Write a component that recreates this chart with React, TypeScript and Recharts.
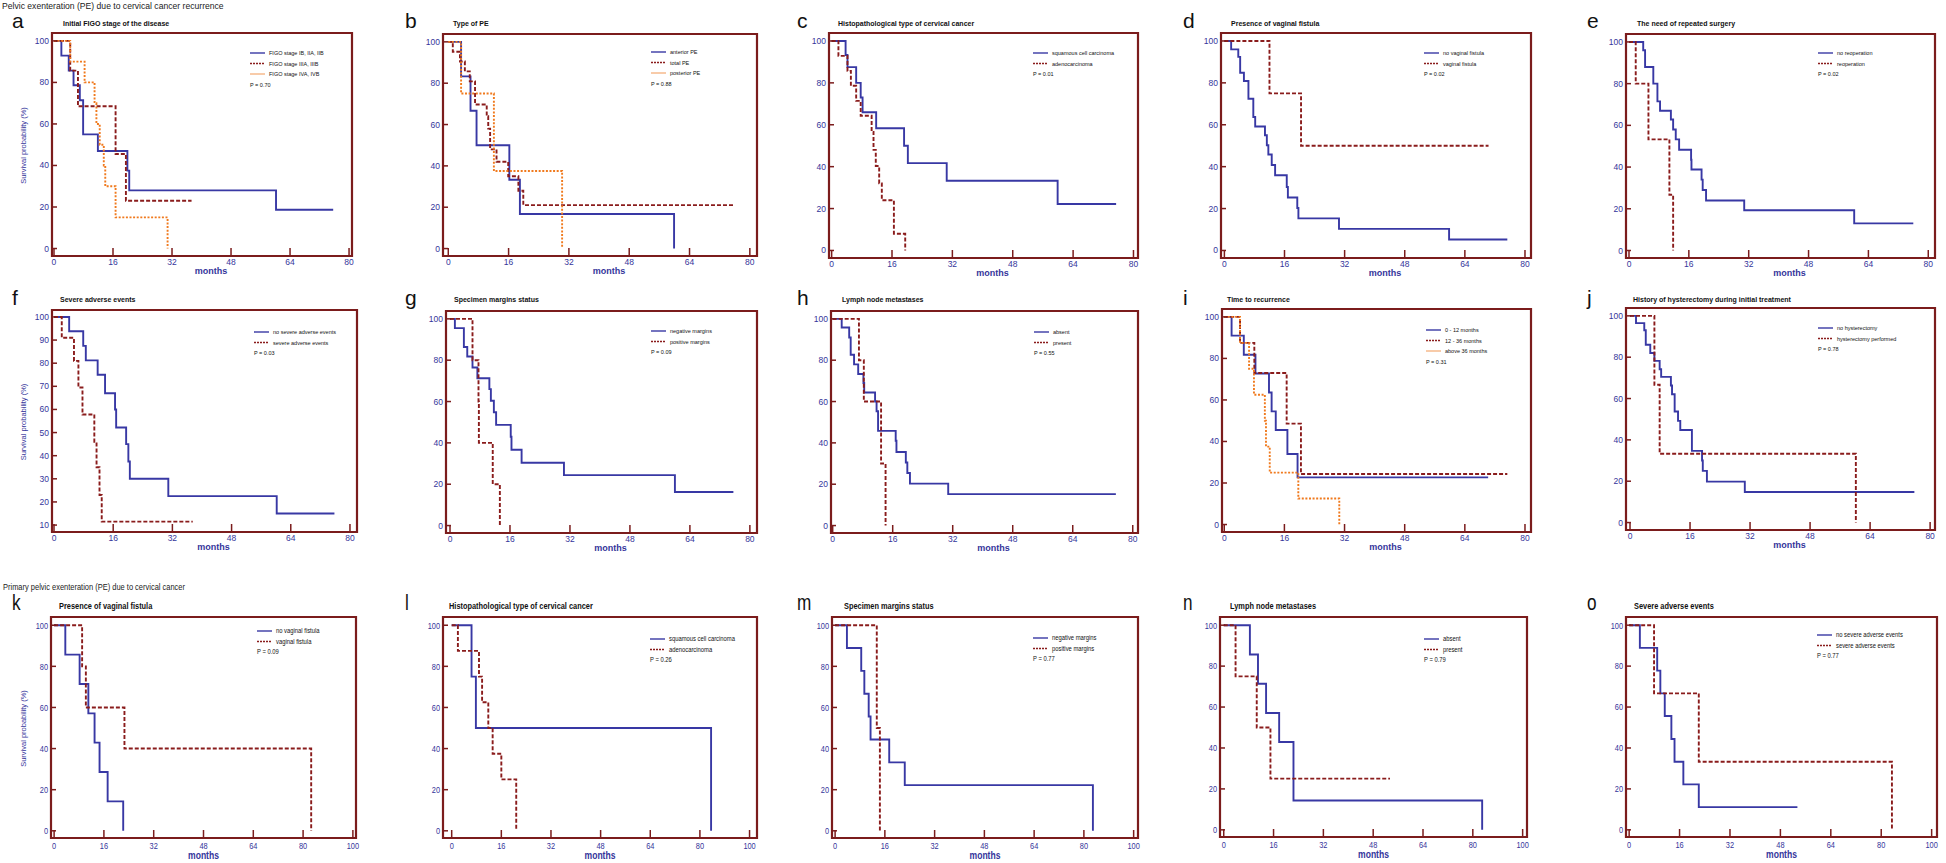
import { LineChart, Line, XAxis, YAxis, ReferenceArea } from 'recharts'

type Pt = [number, number] // [months, survival %]
type Kind = 'blue' | 'red' | 'orange'

// ---- recurrence group (a - j) ----
const figoEarly: Pt[] = [[0, 100], [2, 92.9], [4, 85.7], [5.3, 78.6], [7, 71.4], [7.9, 55], [11.9, 47], [19.9, 37.5], [20.4, 28], [60.2, 18.7], [75.7, 18.7]]
const figoMid: Pt[] = [[0, 100], [4.4, 85.7], [6.5, 68.5], [16.7, 45.5], [19.5, 23], [37.3, 23]]
const figoLate: Pt[] = [[0, 100], [4.4, 90], [8.3, 80], [11, 70], [11.5, 60], [12.4, 50], [13.5, 40], [13.9, 30], [16.7, 15], [30.8, 0]]

const peAnterior: Pt[] = [[0, 100], [3.4, 83.3], [5.9, 66.7], [7.5, 50], [16.2, 33.3], [19, 16.7], [59.9, 0]]
const peTotal: Pt[] = [[0, 100], [1.2, 95.2], [3.1, 90.5], [4.4, 85.7], [5.7, 80.9], [7.1, 69.7], [10.2, 64], [10.6, 58], [11.1, 48], [12.8, 42], [15.9, 35], [18.6, 28], [19.9, 21], [75.6, 21]]
const pePosterior: Pt[] = [[0, 100], [3.4, 75], [12.1, 37.5], [30.2, 0]]

const histSquamous: Pt[] = [[0, 100], [3.7, 93.3], [4.2, 87.5], [6.5, 80], [7.7, 73], [8.2, 66], [11.8, 58.3], [19.2, 50], [20.2, 41.7], [30.5, 33.3], [59.9, 22.2], [75.4, 22.2]]
const histAdeno: Pt[] = [[0, 100], [1.8, 92.9], [4.2, 85.7], [5.1, 78.6], [6.5, 71.4], [7.7, 64.3], [10.6, 56.6], [11.1, 48], [11.7, 40.3], [12.6, 32], [13.3, 24], [16.5, 8], [19.5, 0]]

const fistulaNo: Pt[] = [[0, 100], [1.8, 96], [3.7, 92.4], [4.2, 84.8], [5.2, 80.9], [6.4, 72.4], [7.7, 63.7], [8.2, 59.2], [10.8, 55], [11.3, 50.2], [11.7, 45.8], [12.6, 40.8], [13.5, 35.9], [16.6, 30.3], [16.9, 25.3], [19.4, 20.3], [19.7, 15.3], [30.5, 10.3], [59.8, 5.2], [75.3, 5.2]]
const fistulaYes: Pt[] = [[0, 100], [12, 75], [20.4, 50], [70.3, 50]]

const reopNo: Pt[] = [[0, 100], [3.8, 96], [4.3, 88], [6.5, 80], [7.6, 71.5], [8.3, 67], [11.2, 62.8], [11.8, 58], [12.5, 53.3], [13.4, 48.3], [16.6, 43.5], [16.7, 38.8], [19.4, 34], [19.7, 29], [20.6, 24], [30.8, 19.3], [60.2, 13], [76, 13]]
const reopYes: Pt[] = [[0, 100], [1.8, 80], [5.2, 53.3], [10.8, 26.7], [11.8, 0]]

const saeNo: Pt[] = [[0, 100], [4.1, 93.8], [7.9, 87.5], [8.6, 81.2], [11.8, 75], [13.8, 67], [16.5, 60], [16.8, 52.2], [19.5, 45], [20.1, 37.5], [20.5, 30], [30.9, 22.5], [60.2, 15], [75.8, 15]]
const saeYes: Pt[] = [[0, 100], [2.1, 91], [5.4, 81], [6.6, 69.5], [7.7, 57.8], [10.9, 46], [11.5, 35], [12.3, 23], [12.9, 11.5], [37.5, 11.5]]

const marginNeg: Pt[] = [[0, 100], [1.3, 95.5], [3.7, 86.4], [4.6, 81.8], [6, 76.5], [7.3, 71.3], [10.5, 66], [10.9, 60.4], [11.7, 54.8], [12.3, 48.7], [16.2, 43], [16.4, 36.7], [19.1, 30.4], [30.4, 24.4], [60, 16.2], [75.6, 16.2]]
const marginPos: Pt[] = [[0, 100], [6, 80], [7.6, 60], [7.7, 40], [11.4, 20], [13.3, 0]]

const nodesAbsent: Pt[] = [[0, 100], [2.4, 95.8], [4.4, 91], [4.8, 82.6], [5.7, 78], [6.8, 73.3], [8.2, 69], [8.4, 64.4], [11.3, 60], [11.7, 55.3], [12.1, 45.8], [16.8, 41], [17, 35.6], [19.5, 30.5], [19.9, 25.4], [20.6, 20.3], [30.8, 15.2], [75.5, 15.2]]
const nodesPresent: Pt[] = [[0, 100], [7, 80], [8.3, 60], [12.9, 30], [14.1, 0]]

const recur0to12: Pt[] = [[0, 100], [1.95, 91], [5.2, 81.8], [8.3, 72.7], [11.9, 63.6], [12.6, 54.5], [13.7, 45.5], [16.8, 34], [19.5, 22.7], [70.2, 22.7]]
const recur12to36: Pt[] = [[0, 100], [4.2, 87.5], [8, 73], [16.6, 48.6], [20.4, 24.3], [75.3, 24.3]]
const recurOver36: Pt[] = [[0, 100], [4.2, 87.5], [6.6, 75], [7.9, 62.5], [10.8, 50], [11.1, 37.5], [12.1, 25], [19.7, 12.5], [30.6, 0]]

const hystNo: Pt[] = [[0, 100], [1.6, 96.5], [3.8, 93], [4.2, 86], [5.4, 82], [6.5, 78.2], [7.9, 74.2], [8.3, 70.5], [10.9, 66.3], [11.2, 62.1], [11.9, 53.7], [12.8, 49.2], [13.4, 44.8], [16.5, 34.7], [19.2, 30], [19.4, 25], [20.5, 19.8], [30.6, 14.8], [75.8, 14.8]]
const hystYes: Pt[] = [[0, 100], [6.5, 66.7], [7.9, 33.3], [60.2, 0]]

// ---- primary group (k - o) ----
const pFistulaNo: Pt[] = [[0, 100], [3.6, 85.7], [8.2, 71.4], [11, 57.1], [13, 42.9], [14.6, 28.6], [17.2, 14.3], [22.2, 0]]
const pFistulaYes: Pt[] = [[0, 100], [9, 80], [10.2, 60], [22.6, 40], [82.6, 0]]

const pSquamous: Pt[] = [[0, 100], [6.4, 75], [7.8, 50], [83.6, 0]]
const pAdeno: Pt[] = [[0, 100], [2, 87.5], [8.8, 75], [9.8, 62.5], [11.8, 50], [13.2, 37.5], [16, 25], [20.8, 0]]

const pMarginNeg: Pt[] = [[0, 100], [3.8, 88.9], [8.4, 77.8], [9.4, 66.7], [10.8, 55.6], [11.4, 44.4], [17.4, 33.3], [22.4, 22.2], [82.9, 0]]
const pMarginPos: Pt[] = [[0, 100], [13.4, 50], [14.4, 0]]

const pNodesAbsent: Pt[] = [[0, 100], [8.4, 85.7], [11, 71.4], [13.6, 57.1], [17.8, 42.9], [22.4, 14.3], [83, 0]]
const pNodesPresent: Pt[] = [[0, 100], [3.8, 75], [10.6, 50], [15, 25], [53.4, 25]]

const pSaeNo: Pt[] = [[0, 100], [3.4, 88.9], [8.9, 77.8], [9.9, 66.7], [11.3, 55.6], [13.4, 44.4], [14.4, 33.3], [17.2, 22.2], [22.1, 11.1], [53.4, 11.1]]
const pSaeYes: Pt[] = [[0, 100], [7.9, 66.7], [22.1, 33.3], [83.4, 0]]

// ---- axis ticks ----
const MONTH_TICKS = [0, 16, 32, 48, 64, 80]
const MONTH_LABELS = ['0', '16', '32', '48', '64', '80']
const PRIMARY_MONTH_TICKS = [0, 16, 32, 48, 64, 80, 96]
const PRIMARY_MONTH_LABELS = ['0', '16', '32', '48', '64', '80', '100']
const SURV_TICKS = [0, 20, 40, 60, 80, 100]
const SURV_MINOR = [10, 30, 50, 70, 90]
const SURV_TICKS_TEN = [10, 20, 30, 40, 50, 60, 70, 80, 90, 100]

const FRAME = '#7b1c1c'
const TICK_BLUE = '#35359b'
const SANS = "'Liberation Sans', Arial, sans-serif"
const SQUEEZE = 0.78 // bottom row uses a condensed face

const lineStyle: Record<Kind, { stroke: string; dash?: string; legend: string }> = {
  blue: { stroke: '#3838a4', legend: '#3838a4' },
  red: { stroke: '#8a1c1c', dash: '4 2', legend: '#8a1c1c' },
  orange: { stroke: '#f07a1e', dash: '2 1.6', legend: '#f5b585' },
}

interface Series { name: string; pts: Pt[]; kind: Kind }
interface PanelDef {
  letter: string
  title: string
  p: string
  series: Series[]
  box: [number, number, number, number] // frame left, top, right, bottom
  x: [number, number]
  legend: [number, number]
  titleX: number
  row: 0 | 1 | 2
  yTen?: boolean
}

const panels: PanelDef[] = [
  { letter: 'a', title: 'Initial FIGO stage of the disease', p: 'P = 0.70', row: 0, box: [52, 33, 352, 256], x: [-0.54, 80.8], legend: [250, 53], titleX: 63,
    series: [{ name: 'FIGO stage IB, IIA, IIB', pts: figoEarly, kind: 'blue' }, { name: 'FIGO stage IIIA, IIIB', pts: figoMid, kind: 'red' }, { name: 'FIGO stage IVA, IVB', pts: figoLate, kind: 'orange' }] },
  { letter: 'b', title: 'Type of PE', p: 'P = 0.88', row: 0, box: [443, 34, 757, 256], x: [-1.4, 81.9], legend: [651, 52], titleX: 453,
    series: [{ name: 'anterior PE', pts: peAnterior, kind: 'blue' }, { name: 'total PE', pts: peTotal, kind: 'red' }, { name: 'posterior PE', pts: pePosterior, kind: 'orange' }] },
  { letter: 'c', title: 'Histopathological type of cervical cancer', p: 'P = 0.01', row: 0, box: [829, 33, 1138, 258], x: [-0.7, 81.2], legend: [1033, 53], titleX: 838,
    series: [{ name: 'squamous cell carcinoma', pts: histSquamous, kind: 'blue' }, { name: 'adenocarcinoma', pts: histAdeno, kind: 'red' }] },
  { letter: 'd', title: 'Presence of vaginal fistula', p: 'P = 0.02', row: 0, box: [1221, 33, 1531, 258], x: [-0.9, 81.6], legend: [1424, 53], titleX: 1231,
    series: [{ name: 'no vaginal fistula', pts: fistulaNo, kind: 'blue' }, { name: 'vaginal fistula', pts: fistulaYes, kind: 'red' }] },
  { letter: 'e', title: 'The need of repeated surgery', p: 'P = 0.02', row: 0, box: [1626, 34, 1935, 258], x: [-0.8, 81.8], legend: [1818, 53], titleX: 1637,
    series: [{ name: 'no reoperation', pts: reopNo, kind: 'blue' }, { name: 'reoperation', pts: reopYes, kind: 'red' }] },
  { letter: 'f', title: 'Severe adverse events', p: 'P = 0.03', row: 1, yTen: true, box: [52, 310, 357, 532], x: [-0.54, 81.9], legend: [254, 332], titleX: 60,
    series: [{ name: 'no severe adverse events', pts: saeNo, kind: 'blue' }, { name: 'severe adverse events', pts: saeYes, kind: 'red' }] },
  { letter: 'g', title: 'Specimen margins status', p: 'P = 0.09', row: 1, box: [446, 311, 757, 533], x: [-1.07, 81.9], legend: [651, 331], titleX: 454,
    series: [{ name: 'negative margins', pts: marginNeg, kind: 'blue' }, { name: 'positive margins', pts: marginPos, kind: 'red' }] },
  { letter: 'h', title: 'Lymph node metastases', p: 'P = 0.55', row: 1, box: [831, 311, 1138, 533], x: [-0.45, 81.4], legend: [1034, 332], titleX: 842,
    series: [{ name: 'absent', pts: nodesAbsent, kind: 'blue' }, { name: 'present', pts: nodesPresent, kind: 'red' }] },
  { letter: 'i', title: 'Time to recurrence', p: 'P = 0.31', row: 1, box: [1222, 309, 1531, 532], x: [-0.6, 81.6], legend: [1426, 330], titleX: 1227,
    series: [{ name: '0 - 12 months', pts: recur0to12, kind: 'blue' }, { name: '12 - 36 months', pts: recur12to36, kind: 'red' }, { name: 'above 36 months', pts: recurOver36, kind: 'orange' }] },
  { letter: 'j', title: 'History of hysterectomy during initial treatment', p: 'P = 0.78', row: 1, box: [1626, 308, 1935, 530], x: [-1.07, 81.3], legend: [1818, 328], titleX: 1633,
    series: [{ name: 'no hysterectomy', pts: hystNo, kind: 'blue' }, { name: 'hysterectomy performed', pts: hystYes, kind: 'red' }] },
  { letter: 'k', title: 'Presence of vaginal fistula', p: 'P = 0.09', row: 2, box: [51, 617, 356, 838], x: [-1, 97], legend: [257, 631], titleX: 59,
    series: [{ name: 'no vaginal fistula', pts: pFistulaNo, kind: 'blue' }, { name: 'vaginal fistula', pts: pFistulaYes, kind: 'red' }] },
  { letter: 'l', title: 'Histopathological type of cervical cancer', p: 'P = 0.26', row: 2, box: [443, 617, 757, 838], x: [-2.8, 98.4], legend: [650, 639], titleX: 449,
    series: [{ name: 'squamous cell carcinoma', pts: pSquamous, kind: 'blue' }, { name: 'adenocarcinoma', pts: pAdeno, kind: 'red' }] },
  { letter: 'm', title: 'Specimen margins status', p: 'P = 0.77', row: 2, box: [832, 617, 1138, 838], x: [-1, 97.4], legend: [1033, 638], titleX: 844,
    series: [{ name: 'negative margins', pts: pMarginNeg, kind: 'blue' }, { name: 'positive margins', pts: pMarginPos, kind: 'red' }] },
  { letter: 'n', title: 'Lymph node metastases', p: 'P = 0.79', row: 2, box: [1220, 617, 1527, 837], x: [-1.2, 97.4], legend: [1424, 639], titleX: 1230,
    series: [{ name: 'absent', pts: pNodesAbsent, kind: 'blue' }, { name: 'present', pts: pNodesPresent, kind: 'red' }] },
  { letter: 'o', title: 'Severe adverse events', p: 'P = 0.77', row: 2, box: [1626, 617, 1937, 837], x: [-1, 97.7], legend: [1817, 635], titleX: 1634,
    series: [{ name: 'no severe adverse events', pts: pSaeNo, kind: 'blue' }, { name: 'severe adverse events', pts: pSaeYes, kind: 'red' }] },
]

const LETTER_X = [12, 405, 797, 1183, 1587]
const ROW_BASE = [28, 305, 610]
const TITLE_BASE = [26, 302, 609]

const YW = 30 // y axis width
const XH = 30 // x axis height
const M = 4

// text that is squeezed horizontally on the bottom row
function T({ x, y, squeeze, children, ...rest }: any) {
  const sx = squeeze ? SQUEEZE : 1
  return (
    <text transform={`translate(${x}, ${y}) scale(${sx}, 1)`} fontFamily={SANS} {...rest}>
      {children}
    </text>
  )
}

function NarrowXTick(props: any) {
  const { x, y, payload } = props
  const label = PRIMARY_MONTH_LABELS[PRIMARY_MONTH_TICKS.indexOf(payload.value)]
  return (
    <T x={x} y={y} squeeze dy="0.71em" textAnchor="middle" fontSize={9.5} fill={TICK_BLUE}>
      {label}
    </T>
  )
}

function NarrowYTick(props: any) {
  const { x, y, payload } = props
  return (
    <T x={x} y={y} squeeze dy="0.355em" textAnchor="end" fontSize={9.5} fill={TICK_BLUE}>
      {payload.value}
    </T>
  )
}

function KMPanel({ d }: { d: PanelDef }) {
  const [l, t, r, b] = d.box
  const primary = d.row === 2
  const width = r - l + YW + M
  const height = b - t + M + XH
  const yDomain: [number, number] = d.yTen ? [7, 103] : primary ? [-3.5, 104] : [-3.6, 103.8]
  const xTicks = primary ? PRIMARY_MONTH_TICKS : MONTH_TICKS
  const tickFont = { fill: TICK_BLUE, fontSize: 8.5, fontFamily: SANS }

  return (
    <div style={{ position: 'absolute', left: l - YW, top: t - M }}>
      <LineChart width={width} height={height} margin={{ top: M, right: M, bottom: 0, left: 0 }}>
        <XAxis
          type="number"
          dataKey="t"
          domain={d.x}
          allowDataOverflow
          ticks={xTicks}
          interval={0}
          tickFormatter={(_v: number, i: number) => MONTH_LABELS[i]}
          height={XH}
          axisLine={false}
          tickLine={{ stroke: FRAME, strokeWidth: 1.5 }}
          tickSize={-8}
          tickMargin={primary ? 12 : 11}
          tick={primary ? <NarrowXTick /> : tickFont}
        />
        <YAxis
          type="number"
          domain={yDomain}
          allowDataOverflow
          ticks={d.yTen ? SURV_TICKS_TEN : SURV_TICKS}
          interval={0}
          width={YW}
          axisLine={false}
          tickLine={{ stroke: FRAME, strokeWidth: 1.5 }}
          tickSize={-5}
          tickMargin={8}
          tick={primary ? <NarrowYTick /> : tickFont}
        />
        {!d.yTen && (
          <YAxis
            yAxisId="minor"
            type="number"
            domain={yDomain}
            allowDataOverflow
            ticks={SURV_MINOR}
            interval={0}
            mirror
            width={0}
            axisLine={false}
            tick={false}
            tickSize={3}
            tickLine={{ stroke: FRAME, strokeWidth: 1 }}
          />
        )}
        <ReferenceArea
          x1={d.x[0]}
          x2={d.x[1]}
          y1={yDomain[0]}
          y2={yDomain[1]}
          fill="none"
          fillOpacity={0}
          stroke={FRAME}
          strokeWidth={2.2}
          ifOverflow="visible"
        />
        {d.series.map((s) => (
          <Line
            key={s.name}
            data={s.pts.map(([t, v]) => ({ t, s: v }))}
            dataKey="s"
            type="stepAfter"
            stroke={lineStyle[s.kind].stroke}
            strokeDasharray={lineStyle[s.kind].dash}
            strokeWidth={1.9}
            dot={false}
            activeDot={false}
            isAnimationActive={false}
          />
        ))}
      </LineChart>
    </div>
  )
}

function Annotations() {
  return (
    <svg width={1946} height={863} style={{ position: 'absolute', left: 0, top: 0, pointerEvents: 'none' }}>
      <T x={2} y={9} fontSize={8.6} fill="#222">
        Pelvic exenteration (PE) due to cervical cancer recurrence
      </T>
      <T x={3} y={590} squeeze fontSize={9.6} fill="#222">
        Primary pelvic exenteration (PE) due to cervical cancer
      </T>
      {panels.map((d, i) => {
        const primary = d.row === 2
        const [l, , r, b] = d.box
        const [lx, ly] = d.legend
        const step = 10.5
        const lfs = primary ? 7.5 : 5.5
        return (
          <g key={d.letter}>
            <T x={LETTER_X[i % 5]} y={ROW_BASE[d.row]} squeeze={primary} fontSize={primary ? 22 : 21} fill="#111">
              {d.letter}
            </T>
            <T x={d.titleX} y={TITLE_BASE[d.row]} squeeze={primary} fontSize={primary ? 9.5 : 7} fontWeight="bold" fill="#111">
              {d.title}
            </T>
            <T
              x={(l + r) / 2 + (primary ? 0 : 9)}
              y={b + (primary ? 21 : 18)}
              squeeze={primary}
              textAnchor="middle"
              fontSize={primary ? 11 : 9}
              fontWeight="bold"
              fill={TICK_BLUE}
            >
              months
            </T>
            {i % 5 === 0 && (
              <text
                transform={`translate(26, ${(d.box[1] + d.box[3]) / 2 + 1}) rotate(-90)`}
                textAnchor="middle"
                fontSize={7.5}
                fontFamily={SANS}
                fill={TICK_BLUE}
              >
                Survival probability (%)
              </text>
            )}
            {d.series.map((s, k) => (
              <g key={s.name}>
                <line
                  x1={lx}
                  x2={lx + 15}
                  y1={ly + k * step}
                  y2={ly + k * step}
                  stroke={lineStyle[s.kind].legend}
                  strokeWidth={1.4}
                  strokeDasharray={s.kind === 'red' ? '2 1' : undefined}
                />
                <T x={lx + 19} y={ly + k * step + 2} squeeze={primary} fontSize={lfs} fill="#111">
                  {s.name}
                </T>
              </g>
            ))}
            <T x={lx} y={ly + d.series.length * step + 2} squeeze={primary} fontSize={lfs} fill="#111">
              {d.p}
            </T>
          </g>
        )
      })}
    </svg>
  )
}

export default function App() {
  return (
    <div style={{ position: 'absolute', left: 0, top: 0, width: 1946, height: 863, background: '#fff', overflow: 'hidden' }}>
      {panels.map((d) => (
        <KMPanel key={d.letter} d={d} />
      ))}
      <Annotations />
    </div>
  )
}
